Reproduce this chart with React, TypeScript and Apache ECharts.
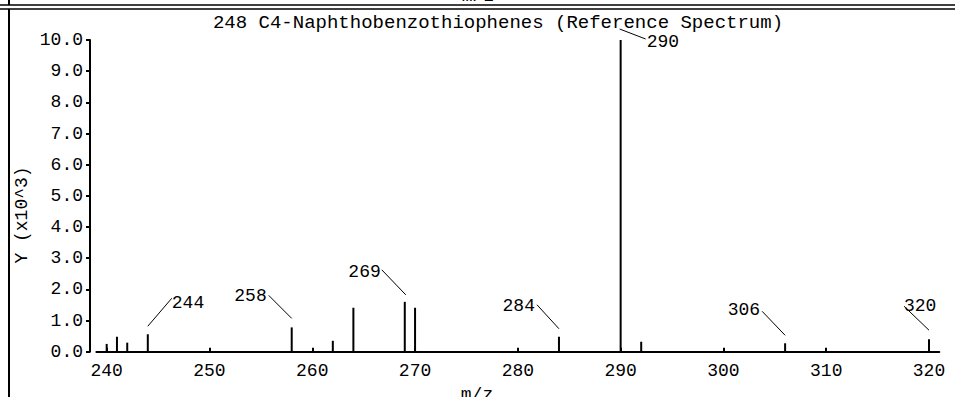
import React, { useEffect, useRef } from "react";
import * as echarts from "echarts";

// ---- data ----
const chartTitle = "248 C4-Naphthobenzothiophenes (Reference Spectrum)";
const xAxisTitle = "m/z";
const yAxisTitle = "Y (x10^3)";
const massValues = [240, 241, 242, 244, 258, 262, 264, 269, 270, 284, 290, 292, 306, 320];
const intensityValues = [0.25, 0.48, 0.29, 0.56, 0.78, 0.35, 1.41, 1.6, 1.41, 0.48, 10.0, 0.32, 0.27, 0.4];
const labeledMasses = [244, 258, 269, 284, 290, 306, 320];
const xTickValues = [240, 250, 260, 270, 280, 290, 300, 310, 320];
const xMin = 239;
const xMax = 321;
const yMin = 0;
const yMax = 10;
const yInterval = 1;

// ---- label placement (pixel offsets from peak top; style only) ----
type Placement = { start: number[]; end: number[]; align: string; text: number[] };
const labelPlacement: Record<number, Placement> = {
  244: { start: [0, -8], end: [24, -36], align: "left", text: [24, -31] },
  258: { start: [0, -9], end: [-23, -32], align: "right", text: [-25, -31] },
  269: { start: [1, -7], end: [-23, -32], align: "right", text: [-24, -30] },
  284: { start: [0, -8], end: [-22, -32], align: "right", text: [-24, -31] },
  290: { start: [-1, -11], end: [25, -1], align: "left", text: [26, 2] },
  306: { start: [0, -8], end: [-23, -32], align: "right", text: [-25, -33] },
  320: { start: [0, -9], end: [-25, -33], align: "left", text: [-25, -33] },
};

const FONT = '"Liberation Mono", "DejaVu Sans Mono", monospace';

export default function App() {
  const ref = useRef<HTMLDivElement>(null);
  useEffect(() => {
    if (!ref.current) return;
    const chart = echarts.init(ref.current, undefined, { renderer: "svg" });
    const data = massValues.map((m, i) => [m, intensityValues[i]]);
    chart.setOption({
      animation: false,
      backgroundColor: "#fff",
      grid: { left: 96.4, right: 15.7, top: 40, bottom: 45.3, containLabel: false },
      xAxis: {
        type: "value",
        min: xMin,
        max: xMax,
        offset: 4.3,
        axisLine: { show: true, lineStyle: { color: "#000", width: 2 } },
        axisTick: { show: true, inside: true, length: 4, customValues: xTickValues, lineStyle: { color: "#000", width: 2 } },
        axisLabel: {
          customValues: xTickValues,
          color: "#000",
          fontFamily: FONT,
          fontSize: 18,
          margin: 6,
        },
        splitLine: { show: false },
      },
      yAxis: {
        type: "value",
        min: yMin,
        max: yMax,
        interval: yInterval,
        offset: 6.4,
        axisLine: { show: true, lineStyle: { color: "#000", width: 2 } },
        axisTick: { show: true, length: 4, lineStyle: { color: "#000", width: 2 } },
        axisLabel: {
          color: "#000",
          fontFamily: FONT,
          fontSize: 18,
          margin: 7,
          formatter: (v: number) => v.toFixed(1),
        },
        splitLine: { show: false },
      },
      series: [
        {
          type: "custom",
          clip: false,
          encode: { x: 0, y: 1 },
          data,
          renderItem: (params: any, api: any) => {
            const m = api.value(0);
            const v = api.value(1);
            const base = api.coord([m, 0]);
            const top = api.coord([m, v]);
            const children: any[] = [
              {
                type: "line",
                shape: { x1: base[0], y1: base[1], x2: top[0], y2: top[1] },
                style: { stroke: "#000", lineWidth: 2 },
              },
            ];
            const p = labelPlacement[m];
            if (labeledMasses.indexOf(m) >= 0 && p) {
              children.push({
                type: "line",
                shape: {
                  x1: top[0] + p.start[0],
                  y1: top[1] + p.start[1],
                  x2: top[0] + p.end[0],
                  y2: top[1] + p.end[1],
                },
                style: { stroke: "#000", lineWidth: 1 },
              });
              children.push({
                type: "text",
                style: {
                  text: String(m),
                  x: top[0] + p.text[0],
                  y: top[1] + p.text[1],
                  align: p.align,
                  verticalAlign: "middle",
                  font: `18px ${FONT}`,
                  fill: "#000",
                },
              });
            }
            return { type: "group", children };
          },
        },
      ],
      graphic: [
        { type: "line", shape: { x1: 0, y1: 5, x2: 955, y2: 5 }, style: { stroke: "#000", lineWidth: 1.5 } },
        { type: "line", shape: { x1: 0, y1: 9, x2: 955, y2: 9 }, style: { stroke: "#000", lineWidth: 1.5 } },
        { type: "line", shape: { x1: 9, y1: 0, x2: 9, y2: 5 }, style: { stroke: "#000", lineWidth: 2 } },
        { type: "line", shape: { x1: 9, y1: 9, x2: 9, y2: 397 }, style: { stroke: "#000", lineWidth: 2 } },
        {
          type: "text",
          x: 478,
          y: -4,
          style: { text: xAxisTitle, font: `18px ${FONT}`, fill: "#000", align: "center", verticalAlign: "middle" },
        },
        {
          type: "text",
          x: 498,
          y: 22.5,
          style: { text: chartTitle, font: `19px ${FONT}`, fill: "#000", align: "center", verticalAlign: "middle" },
        },
        {
          type: "text",
          x: 22,
          y: 215,
          rotation: Math.PI / 2,
          style: { text: yAxisTitle, font: `18px ${FONT}`, fill: "#000", align: "center", verticalAlign: "middle" },
        },
        {
          type: "text",
          x: 477,
          y: 395,
          style: { text: xAxisTitle, font: `18px ${FONT}`, fill: "#000", align: "center", verticalAlign: "middle" },
        },
      ],
    });
    return () => chart.dispose();
  }, []);
  return (
    <div
      ref={ref}
      style={{ position: "absolute", left: 0, top: 0, width: 955, height: 397, background: "#fff" }}
    />
  );
}
